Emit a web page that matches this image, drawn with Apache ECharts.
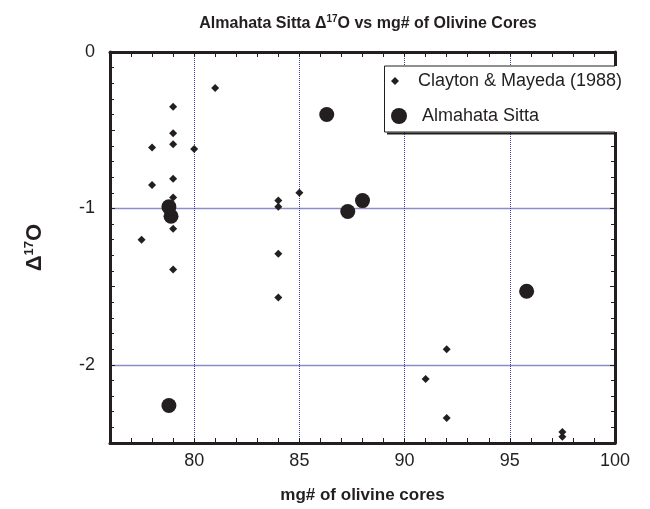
<!DOCTYPE html>
<html>
<head>
<meta charset="utf-8">
<script src="https://cdn.jsdelivr.net/npm/echarts@6/dist/echarts.min.js"></script>
<style>html,body{margin:0;padding:0;background:#fff;}#c{width:650px;height:509px;}</style>
</head>
<body>
<div id="c"></div>
<script>
// Clayton & Mayeda (1988): mg# and Δ17O
const claytonX = [77.5, 78, 78, 79, 79, 79, 79, 79, 79, 79, 80, 81, 84, 84, 84, 84, 85, 91, 92, 92, 97.5, 97.5];
const claytonY = [-1.20, -0.61, -0.85, -0.35, -0.52, -0.59, -0.81, -0.93, -1.13, -1.39, -0.62, -0.23, -0.95, -0.99, -1.29, -1.57, -0.90, -2.09, -1.90, -2.34, -2.43, -2.46];
// Almahata Sitta
const sittaX = [86.3, 78.8, 78.9, 87.3, 88.0, 78.8, 95.8];
const sittaY = [-0.40, -0.99, -1.05, -1.02, -0.95, -2.26, -1.53];
// tick labels
const xTicks = [80, 85, 90, 95, 100];
const yTicks = [0, -1, -2];
const seriesNames = ['Clayton & Mayeda (1988)', 'Almahata Sitta'];

const INK = '#231f20';
const FONT = '"Liberation Sans", Arial, Helvetica, sans-serif';
const zip = (a, b) => a.map((v, i) => [v, b[i]]);

const chart = echarts.init(document.getElementById('c'), null, {renderer: 'canvas'});

const baseX = {
  type: 'value', min: 76, max: 100, interval: 1,
  axisLine: {show: true, onZero: false, lineStyle: {color: INK, width: 3}},
  axisTick: {show: true, inside: true, length: 5, lineStyle: {color: INK, width: 1}}
};
const baseY = {
  type: 'value', min: -2.5, max: 0, interval: 0.5,
  axisLine: {show: true, onZero: false, lineStyle: {color: INK, width: 3}},
  axisTick: {show: true, inside: true, length: 5, lineStyle: {color: INK, width: 1}},
  minorTick: {show: true, splitNumber: 5, length: 4, lineStyle: {color: INK, width: 1}}
};

const diamondIcon = 'path://M0,-1L1,0L0,1L-1,0Z';
const circleIcon = 'path://M0,-1A1,1 0 1 1 0,1A1,1 0 1 1 0,-1Z';

chart.setOption({
  backgroundColor: '#fff',
  animation: false,
  title: {
    text: '{t|Almahata Sitta Δ}{s|17}{t|O vs mg# of Olivine Cores}',
    left: 363, top: 9, textAlign: 'center',
    textStyle: {
      rich: {
        t: {fontFamily: FONT, fontWeight: 'bold', fontSize: 16, color: INK, lineHeight: 20},
        s: {fontFamily: FONT, fontWeight: 'bold', fontSize: 10, color: INK, lineHeight: 20, padding: [0, 0, 9, 0]}
      }
    }
  },
  grid: {left: 110, right: 35, top: 52, bottom: 62, containLabel: false},
  xAxis: [
    Object.assign({}, baseX, {
      position: 'bottom',
      name: 'mg# of olivine cores', nameLocation: 'middle', nameGap: 44,
      nameTextStyle: {fontFamily: FONT, fontWeight: 'bold', fontSize: 17, color: INK},
      axisLabel: {show: true, margin: 9, fontFamily: FONT, fontSize: 18, color: INK,
        formatter: v => xTicks.includes(v) ? String(v) : ''},
      splitLine: {show: true, lineStyle: {color: ['rgba(0,0,0,0)', 'rgba(0,0,0,0)', 'rgba(0,0,0,0)', 'rgba(0,0,0,0)', '#3838a8'], type: 'dotted', width: 1}}
    }),
    Object.assign({}, baseX, {
      position: 'top', axisLabel: {show: false}, splitLine: {show: false}
    })
  ],
  yAxis: [
    Object.assign({}, baseY, {
      position: 'left',
      name: '{d|Δ}{s|17}{d|O}', nameLocation: 'middle', nameGap: 62, nameRotate: 90,
      nameTextStyle: {
        rich: {
          d: {fontFamily: FONT, fontWeight: 'bold', fontSize: 22, color: INK, lineHeight: 26},
          s: {fontFamily: FONT, fontWeight: 'bold', fontSize: 13, color: INK, lineHeight: 26, padding: [0, 0, 12, 0]}
        }
      },
      axisLabel: {show: true, margin: 15, fontFamily: FONT, fontSize: 18, color: INK,
        formatter: v => yTicks.includes(v) ? String(v) : ''},
      splitLine: {show: true, lineStyle: {color: ['rgba(0,0,0,0)', '#8c8cc8'], type: 'solid', width: 1.3}}
    }),
    Object.assign({}, baseY, {
      position: 'right', axisLabel: {show: false}, splitLine: {show: false}
    })
  ],
  legend: [
    {
      data: [{name: seriesNames[0], icon: diamondIcon}],
      left: 391, top: 71, padding: 0, z: 20,
      itemWidth: 36, itemHeight: 8, selectedMode: false,
      textStyle: {fontFamily: FONT, fontSize: 18, color: INK, lineHeight: 20}
    },
    {
      data: [{name: seriesNames[1], icon: circleIcon}],
      left: 391, top: 106, padding: 0, z: 20,
      itemWidth: 36, itemHeight: 16, selectedMode: false,
      textStyle: {fontFamily: FONT, fontSize: 18, color: INK, lineHeight: 20}
    }
  ],
  graphic: [
    {type: 'rect', z: 10, shape: {x: 384, y: 66, width: 236, height: 66}, style: {fill: '#fff'}},
    {type: 'polyline', z: 11, shape: {points: [[615, 66], [384.5, 66], [384.5, 132], [615, 132]]}, style: {fill: null, stroke: INK, lineWidth: 1}},
    {type: 'line', z: 11, shape: {x1: 387, y1: 133.5, x2: 615, y2: 133.5}, style: {stroke: INK, lineWidth: 2}}
  ],
  series: [
    {
      name: seriesNames[0], type: 'scatter', xAxisIndex: 0, yAxisIndex: 0,
      symbol: 'diamond', symbolSize: 8,
      itemStyle: {color: INK, opacity: 1},
      data: zip(claytonX, claytonY), z: 3
    },
    {
      name: seriesNames[1], type: 'scatter', xAxisIndex: 0, yAxisIndex: 0,
      symbol: 'circle', symbolSize: 15,
      itemStyle: {color: INK, opacity: 1},
      data: zip(sittaX, sittaY), z: 4
    }
  ]
});
</script>
</body>
</html>
